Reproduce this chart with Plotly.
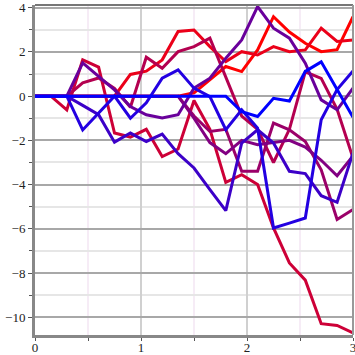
import plotly.graph_objects as go

x_values = [round(0.15 * i, 2) for i in range(21)]

# series ordered from red (drawn first) to blue (drawn last)
red_a = [0, 0, 0, 0, 0, 0, 0, 0, 0, 0, 0.15, 0.74, 1.34, 1.11, 2.09, 3.59, 2.9, 2.39, 2.01, 2.1, 3.59]
red_b = [0, 0, 0, 0, 0, 0.0, 0.98, 1.13, 1.64, 2.92, 2.99, 2.24, 1.56, 2.01, 1.86, 2.24, 2.01, 2.09, 3.07, 2.47, 2.54]
crimson_1 = [0, 0, -0.62, 1.64, 1.31, -1.67, -1.85, -1.5, -2.73, -2.39, -0.2, -1.5, -3.9, -3.55, -4.0, -5.96, -7.54, -8.32, -10.29, -10.37, -10.7]
crimson_2 = [0, 0, 0, 0.6, 0.82, 0.35, -0.5, 1.76, 1.26, 2.01, 2.24, 2.62, 0.9, -0.9, -1.5, -3.0, -1.5, 1.1, 0.8, -0.6, -2.8]
magenta = [0, 0, 0, 0, 0, 0, 0, 0, 0, 0, -0.9, -1.6, -1.5, -3.4, -3.4, -1.22, -1.52, -2.05, -3.33, -5.58, -5.13]
purple_m = [0, 0, 0, 0, 0, 0, 0, 0, 0, 0, -1.0, -2.1, -2.6, -2.0, -2.2, -2.1, -2.0, -2.3, -2.9, -3.6, -2.7]
violet = [0, 0, 0, 1.5, 0.89, 0.28, -0.47, -0.84, -0.99, -0.84, 0.36, 0.81, 1.71, 2.54, 4.05, 3.07, 2.62, 1.49, -0.17, -0.62, 0.36]
blue_b = [0, 0, 0, -0.42, -0.84, -2.08, -1.67, -2.05, -1.72, -2.6, -3.25, -4.23, -5.18, -2.12, -1.52, -2.12, -3.4, -3.5, -4.5, -4.8, -2.57]
blue_a = [0, 0, 0, -1.53, -0.77, 0.0, -1.0, -0.3, 0.81, 1.19, 0.36, -0.02, -1.52, -0.62, -1.45, -5.96, -5.74, -5.51, -1.07, 0.3, 1.14]
blue_pure = [0, 0, 0, 0, 0, 0, 0, 0, 0, 0, 0, 0, 0, -0.7, -0.92, -0.1, -0.22, 1.12, 1.55, 0.3, -0.95]

series = [red_a, red_b, crimson_1, crimson_2, magenta, purple_m, violet, blue_b, blue_a, blue_pure]
colors = ["rgb(255,0,0)", "rgb(235,0,25)", "rgb(205,0,55)", "rgb(180,0,80)", "rgb(155,0,105)",
          "rgb(130,0,130)", "rgb(105,0,155)", "rgb(60,0,200)", "rgb(35,0,225)", "rgb(0,0,255)"]

fig = go.Figure()
for ys, c in zip(series, colors):
    fig.add_trace(go.Scatter(x=x_values, y=ys, mode="lines",
                             line=dict(color=c, width=3), showlegend=False,
                             hoverinfo="skip", cliponaxis=False))

axis_font = dict(family="Liberation Serif", size=13, color="#222")

fig.update_layout(
    width=355, height=355,
    margin=dict(l=35, r=2, t=5, b=20, autoexpand=False),
    paper_bgcolor="white", plot_bgcolor="white",
    xaxis=dict(range=[0, 3], tick0=0, dtick=1, showgrid=True, automargin=False,
               gridcolor="#d0d0d0", gridwidth=2,
               minor=dict(dtick=0.5, showgrid=True, gridcolor="#f6ecf6", gridwidth=1.5,
                          ticks="outside", ticklen=3, tickcolor="#555"),
               showline=True, linecolor="#888", linewidth=3,
               ticks="outside", ticklen=3, tickcolor="#555",
               ticklabelstandoff=-5, ticklabeloverflow="allow",
               zeroline=False, tickfont=axis_font),
    yaxis=dict(range=[-10.8, 4.12], tick0=0, dtick=2, showgrid=True, automargin=False,
               gridcolor="#a8a8a8", gridwidth=1.5,
               minor=dict(dtick=1, showgrid=True, gridcolor="#e6e6e6", gridwidth=1.5,
                          ticks="outside", ticklen=3, tickcolor="#555"),
               showline=True, linecolor="#888", linewidth=3,
               ticks="outside", ticklen=4, tickcolor="#555",
               ticklabeloverflow="allow",
               zeroline=False, tickfont=axis_font),
)
fig.add_shape(type="line", xref="paper", yref="paper", x0=0, x1=1, y0=1, y1=1,
              line=dict(color="#777", width=2))
fig.add_shape(type="line", xref="paper", yref="paper", x0=1, x1=1, y0=0, y1=1,
              line=dict(color="#999", width=2))

fig.write_html("out.html", config={"displayModeBar": False},
               post_script="document.body.style.margin='0';document.body.style.overflow='hidden';")
